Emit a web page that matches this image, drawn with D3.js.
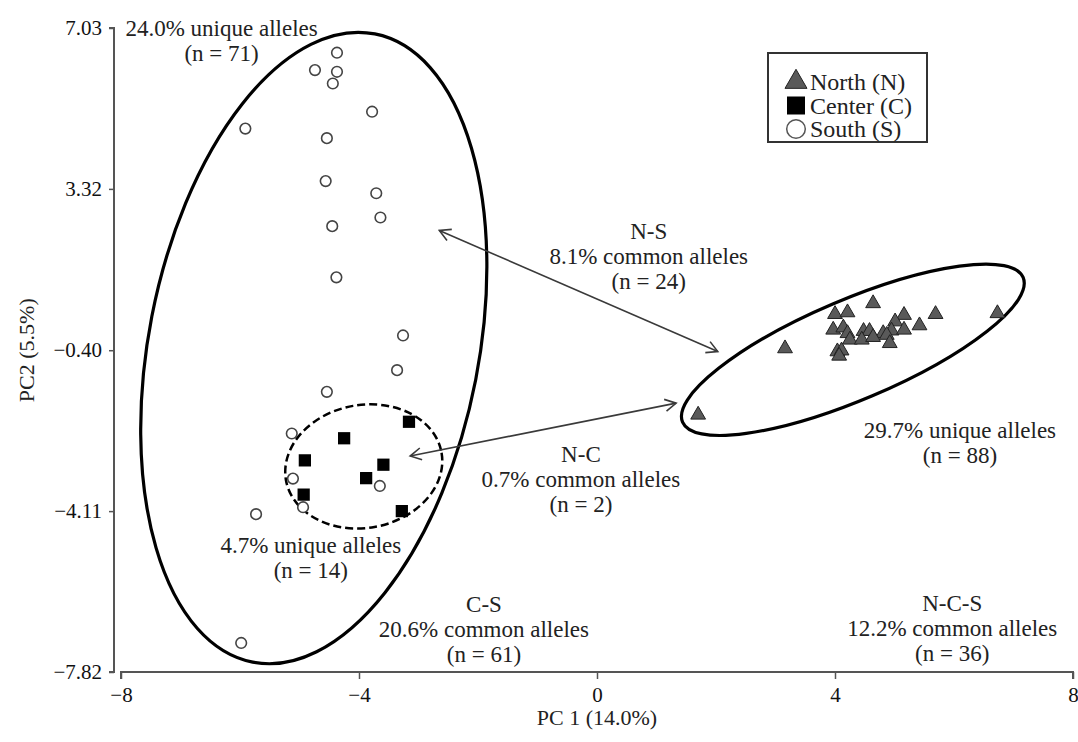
<!DOCTYPE html>
<html>
<head>
<meta charset="utf-8">
<script src="https://cdn.jsdelivr.net/npm/d3@7"></script>
<style>
  body { margin: 0; background: #fff; }
  svg { display: block; font-family: "Liberation Serif", "DejaVu Serif", serif; }
</style>
</head>
<body>
<svg id="chart" width="1078" height="742"></svg>
<script>
"use strict";

// PCA scores
const northX = [4.64, 4.00, 4.21, 5.16, 5.69, 6.73, 5.01, 5.42, 3.97, 4.14, 4.21, 4.48, 4.58,
  4.81, 4.95, 5.16, 4.25, 4.45, 4.64, 4.87, 4.92, 3.16, 4.04, 4.11, 4.07, 1.70];
const northY = [0.68, 0.43, 0.47, 0.41, 0.43, 0.45, 0.26, 0.17, 0.07, 0.12, -0.01, 0.04, 0.04,
  -0.01, 0.05, 0.07, -0.16, -0.16, -0.10, -0.05, -0.24, -0.36, -0.43, -0.41, -0.53, -1.89];

const centerX = [-3.16, -4.25, -4.91, -3.59, -3.88, -4.93, -3.28];
const centerY = [-2.05, -2.43, -2.94, -3.04, -3.35, -3.73, -4.11];

const southX = [-4.37, -4.74, -4.37, -4.44, -3.78, -5.91, -4.54, -4.56, -3.71, -3.64, -4.45,
  -4.38, -3.26, -3.36, -4.54, -5.13, -5.11, -3.65, -4.94, -5.73, -5.98];
const southY = [6.46, 6.06, 6.02, 5.75, 5.10, 4.71, 4.49, 3.50, 3.22, 2.66, 2.46,
  1.28, -0.06, -0.86, -1.36, -2.32, -3.36, -3.53, -4.02, -4.18, -7.15];

const xTicks = [-8, -4, 0, 4, 8];
const yTicks = [7.03, 3.32, -0.40, -4.11, -7.82];
const legendLabels = ["North (N)", "Center (C)", "South (S)"];

// group envelopes (centre in data units)
const ellipseCx = [-4.76, 4.30, -3.92];
const ellipseCy = [-0.35, -0.39, -3.08];

// arrows between groups (data units)
const arrowFrom = [[-2.65, 2.36], [1.33, -1.62]];
const arrowTo = [[2.03, -0.43], [-3.14, -2.84]];

// text blocks
const noteX = [-6.31, 0.87, -0.27, 6.10, -4.81, -1.90, 5.97];
const noteY = [6.85, 2.17, -2.97, -2.42, -5.08, -6.44, -6.42];
const noteLines = [
  ["24.0% unique alleles", "(n = 71)"],
  ["N-S", "8.1% common alleles", "(n = 24)"],
  ["N-C", "0.7% common alleles", "(n = 2)"],
  ["29.7% unique alleles", "(n = 88)"],
  ["4.7% unique alleles", "(n = 14)"],
  ["C-S", "20.6% common alleles", "(n = 61)"],
  ["N-C-S", "12.2% common alleles", "(n = 36)"]
];

const svg = d3.select("#chart");

const x = d3.scaleLinear().domain([-8, 8]).range([121, 1073]);
const y = d3.scaleLinear().domain([-7.82, 7.03]).range([672, 28]);

const fmt = (v) => (v < 0 ? "\u2212" : "") + Math.abs(v).toFixed(2);

// axes
const xAxis = svg.append("g")
  .attr("transform", `translate(0,${y(-7.82)})`)
  .call(d3.axisBottom(x).tickValues(xTicks).tickSize(7).tickPadding(8)
    .tickFormat((d) => (d < 0 ? "\u2212" : "") + Math.abs(d)));
const yAxis = svg.append("g")
  .attr("transform", "translate(114,0)")
  .call(d3.axisLeft(y).tickValues(yTicks).tickSize(5).tickPadding(7).tickFormat(fmt));

[xAxis, yAxis].forEach((g) => {
  g.select(".domain").attr("stroke", "#555").attr("stroke-width", 2);
  g.selectAll(".tick line").attr("stroke", "#555").attr("stroke-width", 1.5);
  g.selectAll(".tick text").attr("fill", "#111").style("font-size", "21px")
    .style("font-family", "Liberation Serif, serif");
});
// y ticks on the outside, drawn flush with the ends like the original
yAxis.select(".domain").attr("d", `M-5,${y(7.03)}H0V${y(-7.82)}H-5`);
xAxis.select(".domain").attr("d", `M${x(-8)},7V0H${x(8)}V7`);

svg.append("text")
  .attr("x", x(0)).attr("y", 725)
  .attr("text-anchor", "middle")
  .style("font-size", "22px").attr("fill", "#222")
  .text("PC 1 (14.0%)");

svg.append("text")
  .attr("transform", `translate(34,${y(-0.4)}) rotate(-90)`)
  .attr("text-anchor", "middle")
  .style("font-size", "22px").attr("fill", "#222")
  .text("PC2 (5.5%)");

// envelopes
const ellipseStyle = [
  { rx: 165, ry: 320, rot: 11, dash: null },
  { rx: 185, ry: 50, rot: -23, dash: null },
  { rx: 79, ry: 61.5, rot: -10, dash: "8,4" }
];
ellipseStyle.forEach((e, i) => {
  svg.append("ellipse")
    .attr("transform", `translate(${x(ellipseCx[i])},${y(ellipseCy[i])}) rotate(${e.rot})`)
    .attr("rx", e.rx).attr("ry", e.ry)
    .attr("fill", "none").attr("stroke", "#000")
    .attr("stroke-width", e.dash ? 2.5 : 3.2)
    .attr("stroke-dasharray", e.dash);
});

// double-headed arrows
svg.append("defs").append("marker")
  .attr("id", "vhead")
  .attr("viewBox", "-12 -7 14 14")
  .attr("refX", 0).attr("refY", 0)
  .attr("markerUnits", "userSpaceOnUse")
  .attr("markerWidth", 14).attr("markerHeight", 14)
  .attr("orient", "auto-start-reverse")
  .append("path")
  .attr("d", "M-11,-6L0,0L-11,6")
  .attr("fill", "none").attr("stroke", "#3a3a3a").attr("stroke-width", 1.6);

arrowFrom.forEach((a, i) => {
  svg.append("line")
    .attr("x1", x(a[0])).attr("y1", y(a[1]))
    .attr("x2", x(arrowTo[i][0])).attr("y2", y(arrowTo[i][1]))
    .attr("stroke", "#3a3a3a").attr("stroke-width", 1.6)
    .attr("marker-start", "url(#vhead)").attr("marker-end", "url(#vhead)");
});

// annotation text
noteLines.forEach((lines, i) => {
  const t = svg.append("text")
    .attr("x", x(noteX[i])).attr("y", y(noteY[i]))
    .attr("text-anchor", "middle")
    .style("font-size", "23px").attr("fill", "#222");
  lines.forEach((s, j) => {
    t.append("tspan").attr("x", x(noteX[i])).attr("dy", j === 0 ? 0 : 25).text(s);
  });
});

// markers
const tri = d3.symbol().type(d3.symbolTriangle).size(95);
const sq = d3.symbol().type(d3.symbolSquare).size(150);

svg.append("g").selectAll("circle")
  .data(d3.range(southX.length))
  .join("circle")
  .attr("cx", (i) => x(southX[i])).attr("cy", (i) => y(southY[i]))
  .attr("r", 5.3)
  .attr("fill", "#fff").attr("stroke", "#444").attr("stroke-width", 1.6);

svg.append("g").selectAll("path")
  .data(d3.range(centerX.length))
  .join("path")
  .attr("d", sq)
  .attr("transform", (i) => `translate(${x(centerX[i])},${y(centerY[i])})`)
  .attr("fill", "#000");

svg.append("g").selectAll("path")
  .data(d3.range(northX.length))
  .join("path")
  .attr("d", tri)
  .attr("transform", (i) => `translate(${x(northX[i])},${y(northY[i])})`)
  .attr("fill", "#595959").attr("stroke", "#222").attr("stroke-width", 1);

// legend
const legend = svg.append("g").attr("transform", "translate(768,53)");
legend.append("rect")
  .attr("width", 159).attr("height", 89)
  .attr("fill", "#fff").attr("stroke", "#333").attr("stroke-width", 2);

const legendSymbols = [
  (g) => g.append("path").attr("d", d3.symbol().type(d3.symbolTriangle).size(210))
    .attr("fill", "#595959").attr("stroke", "#222").attr("stroke-width", 1),
  (g) => g.append("rect").attr("x", -9).attr("y", -9).attr("width", 18).attr("height", 18)
    .attr("fill", "#000"),
  (g) => g.append("circle").attr("r", 9.3)
    .attr("fill", "#fff").attr("stroke", "#555").attr("stroke-width", 1.5)
];
legendLabels.forEach((label, i) => {
  const row = legend.append("g").attr("transform", `translate(28,${29 + i * 23.5})`);
  legendSymbols[i](row);
  row.append("text")
    .attr("x", 14).attr("y", 8)
    .style("font-size", "24px").attr("fill", "#222")
    .text(label);
});
</script>
</body>
</html>
